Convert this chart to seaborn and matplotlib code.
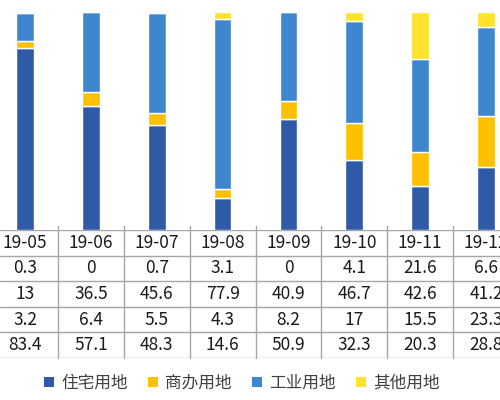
import matplotlib
matplotlib.use("Agg")
import matplotlib.pyplot as plt
from matplotlib.patches import Patch
import seaborn as sns

months = ["19-05", "19-06", "19-07", "19-08", "19-09", "19-10", "19-11", "19-12"]
residential = [83.4, 57.1, 48.3, 14.6, 50.9, 32.3, 20.3, 28.8]
commercial = [3.2, 6.4, 5.5, 4.3, 8.2, 17, 15.5, 23.3]
industrial = [13, 36.5, 45.6, 77.9, 40.9, 46.7, 42.6, 41.2]
other = [0.3, 0, 0.7, 3.1, 0, 4.1, 21.6, 6.6]

names = ["住宅用地", "商办用地", "工业用地", "其他用地"]
colors = ["#2F5AA8", "#FFC000", "#3E87CF", "#FFE32C"]

sns.set_theme(style="white")
plt.rcParams["font.family"] = ["Noto Sans CJK SC", "DejaVu Sans"]

fig = plt.figure(figsize=(5, 4), dpi=100)
fig.patch.set_facecolor("white")

# bar area: 12px .. 230px from top
ax = fig.add_axes([0, 1 - 230 / 400, 1, 218 / 400])
# table area: 230px .. 358px from top
tax = fig.add_axes([0, 1 - 358 / 400, 1, 128 / 400])

xmin, xmax = -25 / 65.86, (500 - 25) / 65.86

series = [residential, commercial, industrial, other]
bottom = [0] * len(months)
for vals, name, c in zip(series, names, colors):
    sns.barplot(x=months, y=vals, bottom=bottom, color=c, width=0.27,
                saturation=1, ax=ax, label=name)
    bottom = [b + v for b, v in zip(bottom, vals)]

ax.set_xlim(xmin, xmax)
ax.set_ylim(0, 100)
ax.axis("off")
if ax.get_legend():
    ax.get_legend().remove()

# data table below the bars (the chart is cropped, so the last column runs off the edge)
rows = [months,
        [f"{v:g}" for v in other],
        [f"{v:g}" for v in industrial],
        [f"{v:g}" for v in commercial],
        [f"{v:g}" for v in residential]]
tax.set_xlim(xmin, xmax)
tax.set_ylim(len(rows), 0)
tax.axis("off")
line_c = "#A6A6A6"
for r in range(len(rows) + 1):
    tax.axhline(r, color=line_c, lw=1.0)
for i in range(len(months)):
    tax.plot([i + 0.5, i + 0.5], [-0.16, len(rows)], color=line_c, lw=1.0, clip_on=False)
for r, row in enumerate(rows):
    for i, txt in enumerate(row):
        tax.text(i, r + 0.5, txt, ha="center", va="center", fontsize=12.5, color="#1A1A1A")

handles = [Patch(facecolor=c, edgecolor="none") for c in colors]
fig.legend(handles, names, loc="center", bbox_to_anchor=(242 / 500, 1 - 383 / 400),
           ncol=4, frameon=False, fontsize=12, handlelength=0.55, handleheight=0.55,
           handletextpad=0.45, columnspacing=1.25, labelcolor="#404040")

fig.savefig("out.png", dpi=100, facecolor="white")
